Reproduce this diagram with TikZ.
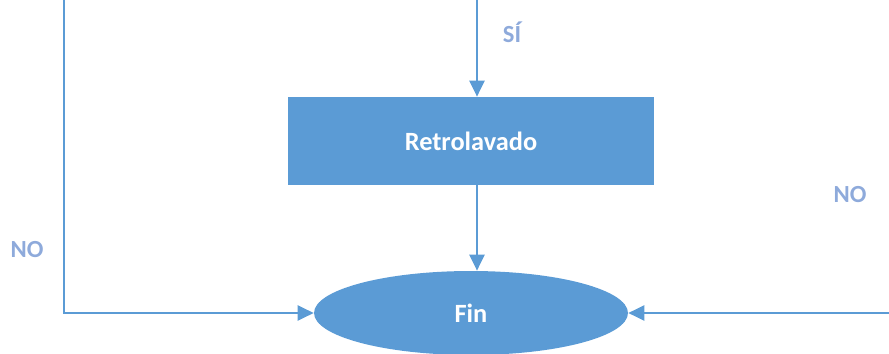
\documentclass[tikz,border=0pt]{standalone}
\usepackage{fontspec}
\setmainfont{Carlito}
\usetikzlibrary{arrows.meta, positioning, shapes.geometric}
\definecolor{flowblue}{HTML}{5B9BD5}
\definecolor{flowlabel}{HTML}{8EAADB}
\tikzset{
  proc/.style={rectangle, fill=flowblue, draw=none, minimum width=7.34cm, minimum height=1.76cm,
    font=\fontsize{15}{18}\selectfont\bfseries, text=white, align=center},
  term/.style={ellipse, fill=flowblue, draw=none, minimum width=6.28cm, minimum height=1.68cm,
    font=\fontsize{15}{18}\selectfont\bfseries, text=white, inner sep=0pt},
  lbl/.style={font=\fontsize{14}{17}\selectfont\bfseries, text=flowlabel},
  arr/.style={-{Triangle[length=3.2mm, width=3mm]}, line width=1.4pt, flowblue},
  wire/.style={line width=1.4pt, flowblue},
}
\begin{document}
\begin{tikzpicture}[x=0.02cm, y=-0.02cm]
    \useasboundingbox (0,0) rectangle (889,354);
    \node[proc] (back) at (471,141) {Retrolavado};
    \node[term] (fin) at (471,313) {Fin};
    \coordinate (top) at (477,0);
    \coordinate (lft) at (64,0);
    \coordinate (rgt) at (889,313);
    \node[lbl] (si) at (512,32) {SÍ};
    \node[lbl] (nol) at (27,250) {NO};
    \node[lbl] (nor) at (850,195) {NO};

    \draw[arr] (top) -- (top |- back.north);
    \draw[arr] (top |- back.south) -- (top |- fin.north);
    \draw[arr] (lft) |- (fin.west);
    \draw[arr] (rgt) -- (fin.east);
  \end{tikzpicture}
\end{document}
